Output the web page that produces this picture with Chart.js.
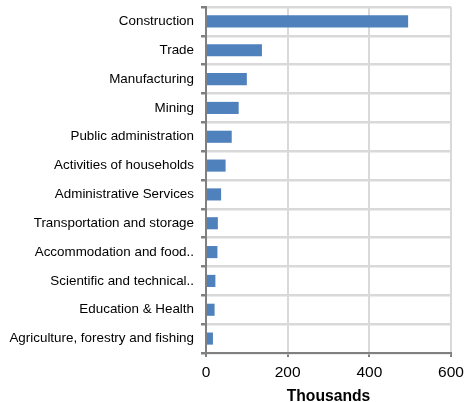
<!DOCTYPE html>
<html><head><meta charset="utf-8">
<script src="https://cdn.jsdelivr.net/npm/chart.js@4/dist/chart.umd.min.js"></script>
<style>html,body{margin:0;padding:0;background:#fff}#wrap{width:464px;height:402px}</style>
</head><body><div id="wrap"><canvas id="c" width="464" height="402"></canvas></div>
<script>
const categories = ["Construction","Trade","Manufacturing","Mining","Public administration","Activities of households","Administrative Services","Transportation and storage","Accommodation and food..","Scientific and technical..","Education & Health","Agriculture, forestry and fishing"];
const values = [495,137,100,80,63,48,37,29,28,23,21,17];
const xTicks = [0,200,400,600];
const xTitle = "Thousands";

new Chart(document.getElementById('c'), {
  type: 'bar',
  data: { labels: categories, datasets: [{ data: values, backgroundColor: '#4f81bd', borderColor: '#4f81bd', borderWidth: 0, barPercentage: 0.42, categoryPercentage: 1 }] },
  options: {
    indexAxis: 'y', responsive: false, animation: false,
    layout: { padding: { left: 0, right: 13, top: 7, bottom: 0 } },
    plugins: { legend: { display: false }, tooltip: { enabled: false } },
    scales: {
      x: {
        min: 0, max: 600,
        afterBuildTicks: s => { s.ticks = xTicks.map(v => ({ value: v })); },
        afterFit: s => { s.height = 49; s.paddingLeft = 0; s.paddingRight = 0; },
        grid: { color: '#d9d9d9', lineWidth: 2, tickColor: '#808080', tickLength: 4 },
        border: { color: '#808080', width: 2 },
        ticks: { color: '#000', font: { family: 'Liberation Sans', size: 15.5 }, padding: 6 },
        title: { display: true, text: xTitle, color: '#000', font: { family: 'Liberation Sans', size: 15.7, weight: 'bold' }, padding: { top: 13, bottom: -4 } }
      },
      y: {
        afterFit: s => { s.width = 206; s.paddingTop = 0; s.paddingBottom = 0; },
        grid: { color: '#d9d9d9', lineWidth: 2.5, tickColor: '#808080', tickLength: 5, offset: true },
        border: { color: '#808080', width: 2 },
        ticks: { color: '#000', font: { family: 'Liberation Sans', size: 13.4 }, padding: 7, autoSkip: false }
      }
    }
  }
});
</script></body></html>
